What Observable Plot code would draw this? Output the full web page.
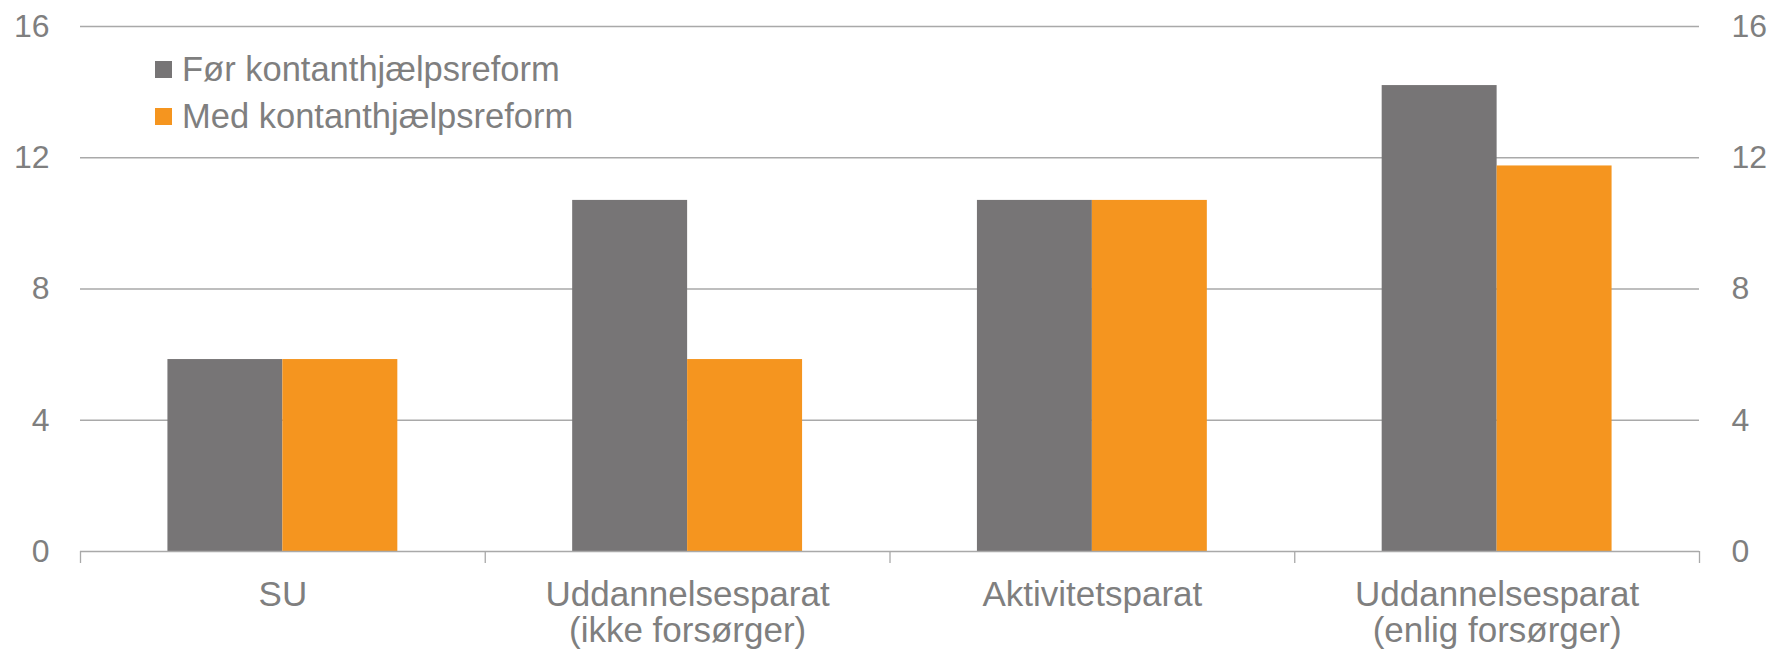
<!DOCTYPE html>
<html>
<head>
<meta charset="utf-8">
<script src="https://cdn.jsdelivr.net/npm/d3@7"></script>
<script src="https://cdn.jsdelivr.net/npm/@observablehq/plot@0.6"></script>
<style>
  html, body { margin: 0; padding: 0; background: #fff; }
  #wrap { position: relative; width: 1771px; height: 652px; font-family: "Liberation Sans", Arial, sans-serif; }
  #legend { position: absolute; left: 155px; top: 46px; color: #7f7f7f; font-size: 34.5px; }
  #legend .row { display: flex; align-items: center; height: 47px; white-space: nowrap; }
  #legend .sw { width: 17px; height: 17px; margin-right: 10px; }
</style>
</head>
<body>
<div id="wrap"></div>
<script>
// ---- data ----
const categories = ["SU", "Uddannelsesparat\n(ikke forsørger)", "Aktivitetsparat", "Uddannelsesparat\n(enlig forsørger)"];
const seriesNames = ["Før kontanthjælpsreform", "Med kontanthjælpsreform"];
const foerValues = [5.85, 10.7, 10.7, 14.2];
const medValues = [5.85, 5.85, 10.7, 11.75];
const yTicks = [0, 4, 8, 12, 16];
const colors = ["#777576", "#F5951F"];

// ---- table for the library ----
const seriesValues = [foerValues, medValues];
const rows = [];
categories.forEach((c, i) => {
  seriesNames.forEach((s, k) => {
    rows.push({category: c, index: i, series: s, k, value: seriesValues[k][i]});
  });
});

const barW = 0.284;   // bar width as fraction of category band
const textColor = "#7f7f7f";
const gridColor = "#a9a9a9";

const chart = Plot.plot({
  width: 1771,
  height: 652,
  marginLeft: 80,
  marginRight: 72,
  marginTop: 26,
  marginBottom: 101,
  style: {fontFamily: "'Liberation Sans', Arial, sans-serif", color: textColor, background: "#fff"},
  x: {domain: [0, categories.length], axis: null},
  y: {domain: [0, 16], axis: null},
  color: {domain: seriesNames, range: colors},
  marks: [
    Plot.ruleY(yTicks.filter(v => v > 0), {stroke: gridColor, strokeWidth: 1.3}),
    Plot.rectY(rows, {
      x1: d => d.index + 0.5 - (d.k === 0 ? barW : 0),
      x2: d => d.index + 0.5 + (d.k === 0 ? 0 : barW),
      y1: 0,
      y2: "value",
      fill: "series"
    }),
    Plot.ruleY([0], {stroke: gridColor, strokeWidth: 1.3}),
    Plot.axisX({ticks: d3.range(categories.length + 1), tickSize: 12, tickFormat: () => "", stroke: gridColor, strokeWidth: 1.3, label: null}),
    Plot.text(categories, {
      x: (d, i) => i + 0.5,
      frameAnchor: "bottom",
      lineAnchor: "top",
      dy: 28,
      lineHeight: 1.05,
      fontSize: 35,
      fill: textColor
    }),
    Plot.axisY({anchor: "left", ticks: yTicks, tickSize: 0, tickPadding: 31, fontSize: 32, fill: textColor, label: null}),
    Plot.axisY({anchor: "right", ticks: yTicks, tickSize: 0, tickPadding: 32, fontSize: 32, fill: textColor, label: null})
  ]
});

const wrap = document.getElementById("wrap");
wrap.appendChild(chart);

const legend = document.createElement("div");
legend.id = "legend";
seriesNames.forEach((s, k) => {
  const row = document.createElement("div");
  row.className = "row";
  const sw = document.createElement("span");
  sw.className = "sw";
  sw.style.background = colors[k];
  const t = document.createElement("span");
  t.textContent = s;
  row.appendChild(sw);
  row.appendChild(t);
  legend.appendChild(row);
});
wrap.appendChild(legend);
</script>
</body>
</html>
